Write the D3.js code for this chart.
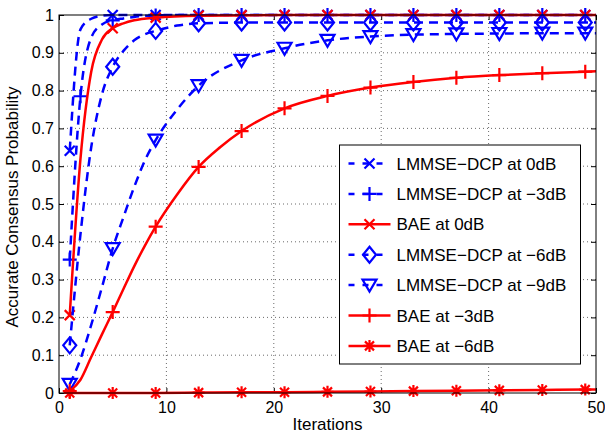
<!DOCTYPE html>
<html>
<head>
<meta charset="utf-8">
<script src="https://cdn.jsdelivr.net/npm/d3@7"></script>
<style>
  body { margin: 0; background: #fff; }
  svg text { font-family: "Liberation Sans", Arial, Helvetica, sans-serif; fill: #000; }
  .grid line { stroke: #444; stroke-width: 0.8; stroke-dasharray: 1,3; }
</style>
</head>
<body>
<div id="chart"></div>
<script>
var svgWidth = 605;
var svgHeight = 433;

var margin = { top: 15, right: 9, bottom: 40, left: 59 };
var width = svgWidth - margin.left - margin.right;
var height = svgHeight - margin.top - margin.bottom;

// tick values
var xTicks = [0, 10, 20, 30, 40, 50];
var yTicks = [0, 0.1, 0.2, 0.3, 0.4, 0.5, 0.6, 0.7, 0.8, 0.9, 1];

// iterations where markers are drawn
var markerIters = [1, 5, 9, 13, 17, 21, 25, 29, 33, 37, 41, 45, 49];

// LMMSE-DCP at 0dB
var lmmse0Iter = [1, 2, 3, 4, 5, 9, 13, 17, 21, 25, 29, 33, 37, 41, 45, 49, 50];
var lmmse0Val = [0.641, 0.962, 0.99, 0.998, 1, 1, 1, 1, 1, 1, 1, 1, 1, 1, 1, 1, 1];

// LMMSE-DCP at -3dB
var lmmse3Iter = [1, 2, 3, 4, 5, 6, 7, 9, 13, 17, 21, 25, 29, 33, 37, 41, 45, 49, 50];
var lmmse3Val = [0.353, 0.785, 0.94, 0.975, 0.986, 0.991, 0.995, 0.999, 1, 1, 1, 1, 1, 1, 1, 1, 1, 1, 1];
var lmmse3Markers = [1, 2, 5, 9, 13, 17, 21, 25, 29, 33, 37, 41, 45, 49];

// BAE at 0dB
var bae0Iter = [1, 2, 3, 4, 5, 6, 7, 9, 13, 17, 21, 25, 29, 33, 37, 41, 45, 49, 50];
var bae0Val = [0.206, 0.62, 0.85, 0.935, 0.965, 0.978, 0.986, 0.993, 0.998, 0.999, 1, 1, 1, 1, 1, 1, 1, 1, 1];

// LMMSE-DCP at -6dB
var lmmse6Iter = [1, 2, 3, 4, 5, 6, 7, 8, 9, 11, 13, 17, 21, 25, 29, 33, 37, 41, 45, 49, 50];
var lmmse6Val = [0.126, 0.42, 0.65, 0.79, 0.863, 0.905, 0.933, 0.949, 0.958, 0.972, 0.978, 0.98, 0.98, 0.98, 0.98, 0.98, 0.98, 0.98, 0.98, 0.98, 0.98];

// LMMSE-DCP at -9dB
var lmmse9Iter = [1, 2, 3, 4, 5, 6, 7, 8, 9, 11, 13, 17, 21, 25, 29, 33, 37, 41, 45, 49, 50];
var lmmse9Val = [0.023, 0.09, 0.18, 0.28, 0.382, 0.465, 0.545, 0.615, 0.669, 0.75, 0.813, 0.88, 0.912, 0.933, 0.943, 0.948, 0.95, 0.951, 0.952, 0.952, 0.952];

// BAE at -3dB
var bae3Iter = [1, 2, 3, 4, 5, 6, 7, 8, 9, 11, 13, 15, 17, 21, 25, 29, 33, 37, 41, 45, 49, 50];
var bae3Val = [0.005, 0.035, 0.095, 0.155, 0.214, 0.275, 0.335, 0.39, 0.44, 0.525, 0.598, 0.65, 0.693, 0.753, 0.786, 0.808, 0.823, 0.834, 0.841, 0.846, 0.85, 0.851];

// BAE at -6dB
var bae6Iter = [1, 5, 9, 13, 17, 21, 25, 29, 33, 37, 41, 45, 49, 50];
var bae6Val = [0, 0, 0, 0.001, 0.002, 0.002, 0.003, 0.004, 0.005, 0.006, 0.007, 0.008, 0.009, 0.009];

var BLUE = "#0000ff";
var RED = "#ff0000";

// series in plot / legend order
var series = [
  { name: "LMMSE\u2212DCP at 0dB", iter: lmmse0Iter, val: lmmse0Val, color: BLUE, dashed: true, marker: "x", marks: markerIters },
  { name: "LMMSE\u2212DCP at \u22123dB", iter: lmmse3Iter, val: lmmse3Val, color: BLUE, dashed: true, marker: "plus", marks: lmmse3Markers },
  { name: "BAE at 0dB", iter: bae0Iter, val: bae0Val, color: RED, dashed: false, marker: "x", marks: markerIters },
  { name: "LMMSE\u2212DCP at \u22126dB", iter: lmmse6Iter, val: lmmse6Val, color: BLUE, dashed: true, marker: "diamond", marks: markerIters },
  { name: "LMMSE\u2212DCP at \u22129dB", iter: lmmse9Iter, val: lmmse9Val, color: BLUE, dashed: true, marker: "tri", marks: markerIters },
  { name: "BAE at \u22123dB", iter: bae3Iter, val: bae3Val, color: RED, dashed: false, marker: "plus", marks: markerIters },
  { name: "BAE at \u22126dB", iter: bae6Iter, val: bae6Val, color: RED, dashed: false, marker: "star", marks: markerIters }
];

var svg = d3.select("#chart")
  .append("svg")
  .attr("width", svgWidth)
  .attr("height", svgHeight);

var chartGroup = svg.append("g")
  .attr("transform", `translate(${margin.left}, ${margin.top})`);

var xLinearScale = d3.scaleLinear().domain([0, 50]).range([0, width]);
var yLinearScale = d3.scaleLinear().domain([0, 1]).range([height, 0]);

// grid
chartGroup.append("g")
  .attr("class", "grid")
  .selectAll("line")
  .data(xTicks.slice(1, -1))
  .enter()
  .append("line")
  .attr("x1", d => xLinearScale(d)).attr("x2", d => xLinearScale(d))
  .attr("y1", 0).attr("y2", height);

chartGroup.append("g")
  .attr("class", "grid")
  .selectAll("line")
  .data(yTicks.slice(1, -1))
  .enter()
  .append("line")
  .attr("y1", d => yLinearScale(d)).attr("y2", d => yLinearScale(d))
  .attr("x1", 0).attr("x2", width);

// axes with inward ticks
function styleAxis(g) {
  g.select(".domain").remove();
  g.selectAll("line").attr("stroke", "#000");
  g.selectAll("text").style("font-size", "16px");
}

chartGroup.append("g")
  .attr("transform", `translate(0, ${height})`)
  .call(d3.axisBottom(xLinearScale).tickValues(xTicks).tickSize(-5).tickPadding(9).tickFormat(d3.format("d")))
  .call(styleAxis);

chartGroup.append("g")
  .call(d3.axisTop(xLinearScale).tickValues(xTicks).tickSize(-5).tickFormat(""))
  .call(styleAxis);

chartGroup.append("g")
  .call(d3.axisLeft(yLinearScale).tickValues(yTicks).tickSize(-5).tickPadding(5).tickFormat(d => d === 0 || d === 1 ? String(d) : d3.format(".1f")(d)))
  .call(styleAxis);

chartGroup.append("g")
  .attr("transform", `translate(${width}, 0)`)
  .call(d3.axisRight(yLinearScale).tickValues(yTicks).tickSize(-5).tickFormat(""))
  .call(styleAxis);

// marker drawing
function markerPath(type) {
  switch (type) {
    case "x": return "M-5,-5L5,5M-5,5L5,-5";
    case "plus": return "M-7,0L7,0M0,-7L0,7";
    case "diamond": return "M0,-8L6.5,0L0,8L-6.5,0Z";
    case "tri": return "M-7,-5.5L7,-5.5L0,6.5Z";
    case "star": return "M-6,0L6,0M0,-6L0,6M-4.5,-4.5L4.5,4.5M-4.5,4.5L4.5,-4.5";
  }
}

var line = d3.line()
  .x(d => xLinearScale(d[0]))
  .y(d => yLinearScale(d[1]))
  .curve(d3.curveMonotoneX);

var plotArea = chartGroup.append("g");

series.forEach(function(s) {
  var pts = s.iter.map((it, i) => [it, s.val[i]]);
  plotArea.append("path")
    .datum(pts)
    .attr("d", line)
    .attr("fill", "none")
    .attr("stroke", s.color)
    .attr("stroke-width", 2.5)
    .attr("stroke-dasharray", s.dashed ? "9,6" : null);

  plotArea.selectAll(null)
    .data(pts.filter(p => s.marks.indexOf(p[0]) >= 0))
    .enter()
    .append("path")
    .attr("transform", d => `translate(${xLinearScale(d[0])}, ${yLinearScale(d[1])})`)
    .attr("d", markerPath(s.marker))
    .attr("fill", "none")
    .attr("stroke", s.color)
    .attr("stroke-width", 2.2);
});

// box
chartGroup.append("rect")
  .attr("width", width)
  .attr("height", height)
  .attr("fill", "none")
  .attr("stroke", "#000")
  .attr("stroke-width", 1);

// legend
var legend = chartGroup.append("g")
  .attr("transform", `translate(${339.5 - margin.left}, ${145 - margin.top})`);

legend.append("rect")
  .attr("width", 241)
  .attr("height", 219)
  .attr("fill", "#fff")
  .attr("stroke", "#000")
  .attr("stroke-width", 1);

var rows = legend.selectAll("g.row")
  .data(series)
  .enter()
  .append("g")
  .attr("class", "row")
  .attr("transform", (d, i) => `translate(0, ${18.5 + i * 30.4})`);

rows.append("line")
  .attr("x1", 9).attr("x2", 51)
  .attr("stroke", d => d.color)
  .attr("stroke-width", 2.5)
  .attr("stroke-dasharray", d => d.dashed ? "6,8" : null);

rows.append("path")
  .attr("transform", "translate(30, 0)")
  .attr("d", d => markerPath(d.marker))
  .attr("fill", "none")
  .attr("stroke", d => d.color)
  .attr("stroke-width", 2.2);

rows.append("text")
  .attr("x", 57)
  .attr("y", 0)
  .attr("dy", "0.36em")
  .style("font-size", "17px")
  .text(d => d.name);

// axis labels
chartGroup.append("text")
  .attr("x", width / 2)
  .attr("y", height + 37)
  .attr("text-anchor", "middle")
  .style("font-size", "17px")
  .text("Iterations");

chartGroup.append("text")
  .attr("transform", `translate(-41, ${height / 2 + 3}) rotate(-90)`)
  .attr("text-anchor", "middle")
  .style("font-size", "17px")
  .text("Accurate Consensus Probability");
</script>
</body>
</html>
